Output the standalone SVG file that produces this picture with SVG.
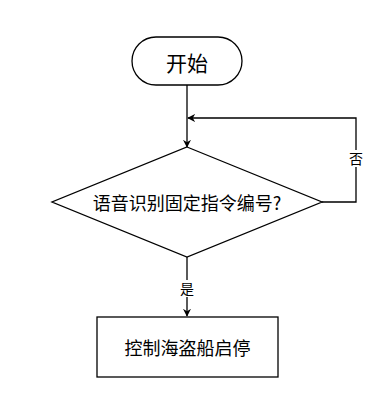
<svg xmlns="http://www.w3.org/2000/svg" width="375" height="405" viewBox="0 0 375 405">
<defs>
<style>
.s{fill:#fff;stroke:#000;stroke-width:1.3}
.c{fill:none;stroke:#000;stroke-width:1.3}
.t{font-family:"Noto Sans CJK SC","Noto Sans",sans-serif;fill:#000;text-anchor:middle;dominant-baseline:central}
.lb{fill:#fff;stroke:none}
</style>
<marker id="a" viewBox="0 0 10 10" refX="9" refY="5" markerWidth="8" markerHeight="8" markerUnits="userSpaceOnUse" orient="auto"><path d="M0,0 L10,5 L0,10 L3,5 Z" fill="#000"/></marker>
</defs>
<rect width="375" height="405" fill="#fff"/>
<g id="connectors">
<path class="c" d="M187,85 L187,147" marker-end="url(#a)"/>
<path class="c" d="M322,202 L356,202 L356,118 L188,118" marker-end="url(#a)"/>
<path class="c" d="M187,257 L187,316" marker-end="url(#a)"/>
<rect class="lb" x="348" y="150" width="16" height="17"/>
<text class="t" x="356" y="158" font-size="14">否</text>
<rect class="lb" x="179" y="280" width="16" height="17"/>
<text class="t" x="187" y="288" font-size="14">是</text>
</g>
<g id="start">
<rect class="s" x="132" y="37" width="110" height="48" rx="24"/>
<text class="t" x="187" y="62" font-size="21">开始</text>
</g>
<g id="decision">
<polygon class="s" points="187,147 322,202 187,257 52,202"/>
<text class="t" x="187" y="202" font-size="18">语音识别固定指令编号?</text>
</g>
<g id="action">
<rect class="s" x="97" y="317" width="181" height="60"/>
<text class="t" x="187.5" y="347" font-size="18">控制海盗船启停</text>
</g>
</svg>
